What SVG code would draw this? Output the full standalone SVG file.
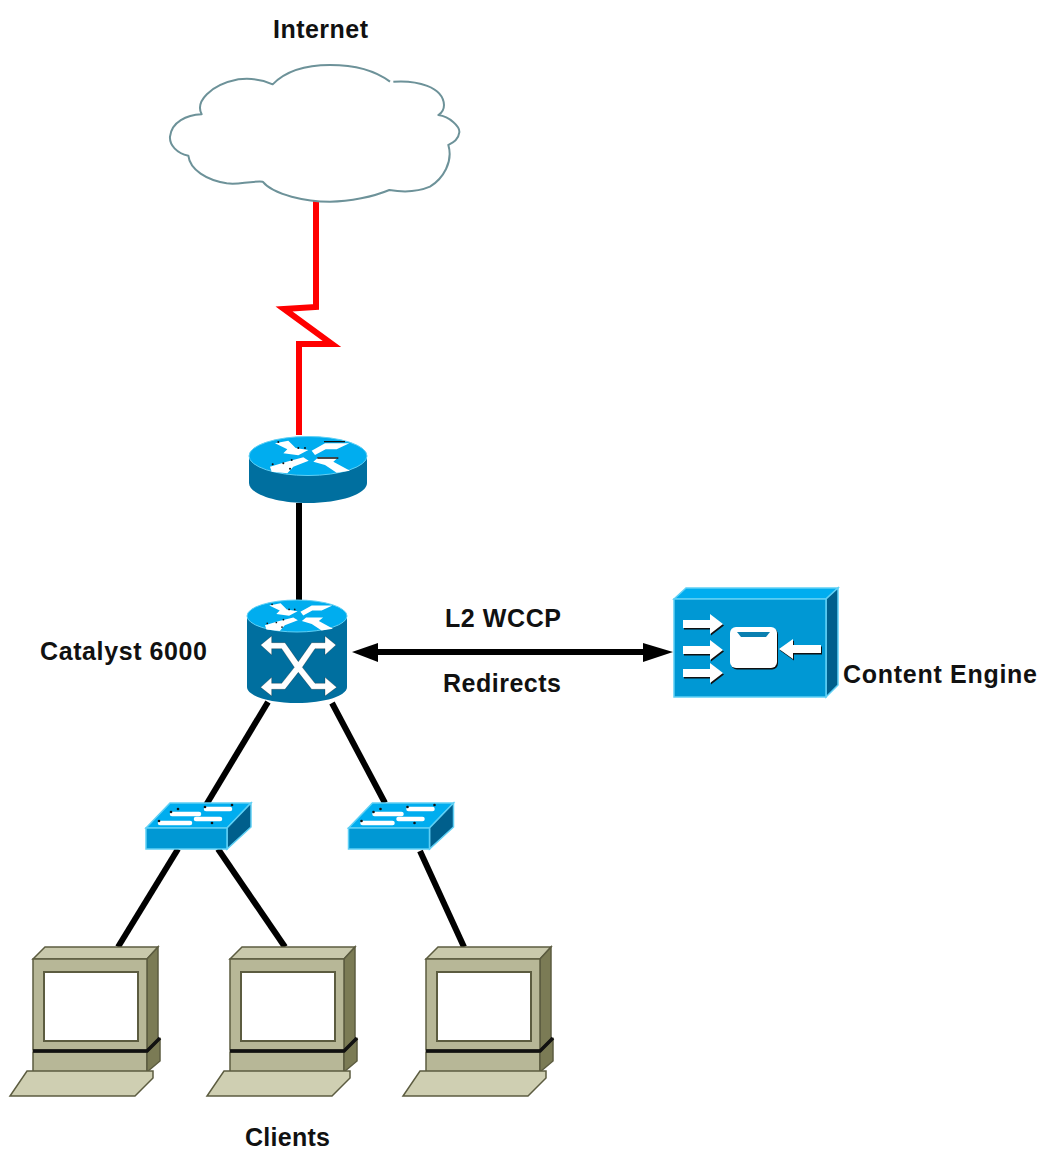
<svg xmlns="http://www.w3.org/2000/svg" width="1039" height="1151" viewBox="0 0 1039 1151">
<style>
text{font-family:"Liberation Sans",Arial,sans-serif;font-weight:bold;font-size:25px;fill:#111}
.link{fill:none;stroke:#000;stroke-width:6}
.red{fill:none;stroke:#f00;stroke-width:6;stroke-linejoin:miter}
.wa{fill:#fff;stroke:#111;stroke-width:.8}
.wl{fill:none;stroke:#fff;stroke-linecap:round;stroke-linejoin:round}
.edge{stroke:#5fd0f5;stroke-width:1.500}
.pc{stroke:#5c5c40;stroke-width:1.500}
</style>
<defs>
<g id="glyph">
<path fill="#fff" d="M135 70L175 62L197 84L235 90L205 106L160 100L172 88Z"/>
<path fill="#fff" d="M285 70H358L320 88H287L255 105L245 92Z"/>
<path fill="#fff" d="M120 140L170 125L220 112L236 122L190 140L172 160L125 155Z"/>
<path fill="#fff" d="M250 125L265 112H325L310 125L360 152L320 158L285 135Z"/>
<g fill="#111"><circle cx="145" cy="66" r="3"/><circle cx="205" cy="84" r="3"/><circle cx="225" cy="84" r="3"/><circle cx="128" cy="133" r="3"/><circle cx="160" cy="130" r="3"/><circle cx="185" cy="120" r="3"/><circle cx="180" cy="146" r="3"/></g>
</g>
<g id="pc">
<path class="pc" fill="#c9c9ac" d="M33 959L45 947H158L147 959Z"/>
<path class="pc" fill="#7b7b55" d="M147 959L158 947V1039L147 1050Z"/>
<path class="pc" fill="#b7b797" d="M33 959H147V1050H33Z"/>
<rect x="44" y="972" width="94" height="69" fill="#fff" stroke="#5c5c40" stroke-width="2"/>
<path class="pc" fill="#b7b797" d="M33 1052H147V1072H33Z"/>
<path class="pc" fill="#7b7b55" d="M147 1052L160 1039V1061L147 1072Z"/>
<path d="M33 1051H147L160 1038" fill="none" stroke="#111" stroke-width="3.500"/>
<path class="pc" fill="#cfcfb2" d="M27 1071H153V1078L135 1096H10Z"/>
</g>
<g id="sw">
<path class="edge" fill="#00adef" d="M146 828L170 803H251L227 828Z"/>
<path class="edge" fill="#005f8c" d="M227 828L251 803V827L227 849Z"/>
<path class="edge" fill="#0098d4" d="M146 828H227V849H146Z"/>
<g class="wl" stroke-width="4.500">
<path d="M172 814H199"/><path d="M206 809H230"/><path d="M160 823H190"/><path d="M196 819H220"/>
</g>
<g fill="#111"><circle cx="178" cy="809" r="1.300"/><circle cx="171" cy="812" r="1.300"/><circle cx="159" cy="821" r="1.300"/><circle cx="205" cy="807" r="1.300"/><circle cx="232" cy="805" r="1.300"/><circle cx="212" cy="823" r="1.300"/></g>
</g>
<g id="ce-arrows">
<path d="M683 620H710V614L723 624L710 634V628H683Z"/>
<path d="M683 646H710V640L723 650L710 660V654H683Z"/>
<path d="M683 669H710V663L723 673L710 683V677H683Z"/>
<path d="M821 645H793V639L779 649L793 659V653H821Z"/>
<rect x="730" y="627" width="47" height="41" rx="6"/>
</g>
</defs>

<g id="connectors">
<path class="red" d="M316 200V307L284 309L332 344H299V435"/>
<path class="link" d="M299 503V600"/>
<path class="link" d="M268 702L197 820"/>
<path class="link" d="M332 703L385 803"/>
<path class="link" d="M178 849L118 947"/>
<path class="link" d="M218 849L285 947"/>
<path class="link" d="M420 851L464 947"/>
<path class="link" d="M370 652H650"/>
<path d="M352 652L378 643V662Z"/>
<path d="M673 652L643 643V662Z"/>
</g>

<g id="internet-cloud">
<path transform="translate(160 55) scale(.33333)" fill="#fff" stroke="#6d9299" stroke-width="6" stroke-linejoin="round" d="M700 80C770 75 850 95 852 150Q852 170 835 180C870 185 900 215 898 232C895 255 880 262 865 270C880 320 850 370 810 395C770 412 730 412 688 405C640 425 570 440 510 440C440 440 340 420 308 380C260 378 240 390 200 385C140 375 90 345 85 302C50 295 28 270 30 245C35 200 80 180 125 178C105 140 150 90 235 73C280 68 310 75 338 88C380 45 440 30 510 30C590 30 650 50 690 80"/>
</g>

<g id="router">
<path fill="#006f9f" d="M249 456V483C249 494 276 503 308 503S367 494 367 483V456Z"/>
<ellipse cx="308" cy="456" rx="59" ry="19.500" fill="#00adef" stroke="#5fd0f5"/>
<g transform="translate(230 420) scale(.33333)">
<use href="#glyph"/>
<path d="M282 65H345M262 114H325" stroke="#111" stroke-width="4" fill="none"/>
</g>
</g>

<g id="catalyst-6000">
<path fill="#006f9f" d="M247 616V687C247 696 270 703 297 703S347 696 347 687V616Z"/>
<ellipse cx="297" cy="616" rx="50" ry="16" fill="#00adef" stroke="#5fd0f5"/>
<g transform="translate(230 420) scale(.33333)">
<use href="#glyph" transform="translate(3 497) scale(.85)"/>
<path class="wa" d="M92 675L125 648V668H165L205 725L245 668H285V648L318 675L285 705V686H255L217 742L255 790H285V772L320 802L285 828V808H245L205 757L165 808H125V828L92 802L125 772V790H155L193 742L155 686H125V705Z"/>
</g>
</g>

<g id="content-engine">
<path class="edge" fill="#00adef" d="M674 599L686 588H838L826 599Z"/>
<path class="edge" fill="#005f8c" d="M826 599L838 588V685L826 697Z"/>
<path class="edge" fill="#0098d4" d="M674 599H826V697H674Z"/>
<use href="#ce-arrows" fill="#111" x="1" y="1.500"/>
<use href="#ce-arrows" fill="#fff"/>
<path d="M737 632H770L766 637H741Z" fill="#0a7fb0"/>
</g>

<g id="switch-1"><use href="#sw"/></g>
<g id="switch-2"><use href="#sw" x="202.500"/></g>
<g id="client-1"><use href="#pc"/></g>
<g id="client-2"><use href="#pc" x="197"/></g>
<g id="client-3"><use href="#pc" x="393"/></g>

<g id="labels">
<text x="273" y="38" textLength="95">Internet</text>
<text x="40" y="660" textLength="167">Catalyst  6000</text>
<text x="445" y="627" textLength="116">L2 WCCP</text>
<text x="443" y="692" textLength="118">Redirects</text>
<text x="843" y="683" textLength="194">Content Engine</text>
<text x="245" y="1145.500" textLength="85">Clients</text>
</g>
</svg>
